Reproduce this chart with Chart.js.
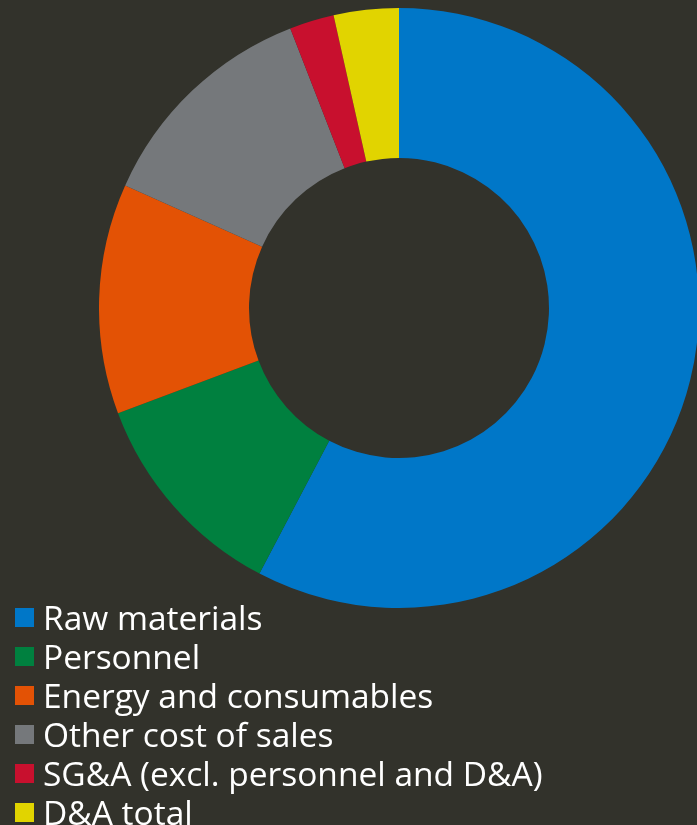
<!DOCTYPE html>
<html>
<head>
<meta charset="utf-8">
<script src="https://cdn.jsdelivr.net/npm/chart.js@4/dist/chart.umd.min.js"></script>
<style>
  html, body { margin: 0; padding: 0; width: 697px; height: 825px; overflow: hidden; background: #32322b; }
  #wrap { position: absolute; left: 99px; top: 8px; width: 600px; height: 600px; }
  #legend { position: absolute; left: 15px; top: 598px; margin: 0; padding: 0; list-style: none;
            font-family: "Open Sans", sans-serif; font-size: 33.5px; color: #ffffff; }
  #legend li { height: 39px; line-height: 39px; display: flex; align-items: center; white-space: nowrap; }
  #legend .box { width: 19px; height: 19px; margin-right: 9px; flex: none; }
</style>
</head>
<body>
<div id="wrap"><canvas id="c" width="600" height="600"></canvas></div>
<ul id="legend"></ul>
<script>
// Cost breakdown, share of total (%)
const categories = [
  "Raw materials",
  "Personnel",
  "Energy and consumables",
  "Other cost of sales",
  "SG&A (excl. personnel and D&A)",
  "D&A total"
];
const shares = [57.7, 11.6, 12.4, 12.4, 2.4, 3.5];
const colors = ["#0077c8", "#00803f", "#e35205", "#75787b", "#c8102e", "#e1d400"];

new Chart(document.getElementById("c"), {
  type: "doughnut",
  data: {
    labels: categories,
    datasets: [{
      data: shares,
      backgroundColor: colors,
      borderWidth: 0,
      hoverOffset: 0
    }]
  },
  options: {
    responsive: false,
    animation: false,
    cutout: "50%",
    layout: { padding: 0 },
    plugins: {
      legend: { display: false },
      tooltip: { enabled: false }
    }
  }
});

const legend = document.getElementById("legend");
categories.forEach((name, i) => {
  const li = document.createElement("li");
  const box = document.createElement("span");
  box.className = "box";
  box.style.background = colors[i];
  li.appendChild(box);
  li.appendChild(document.createTextNode(name));
  legend.appendChild(li);
});
</script>
</body>
</html>
